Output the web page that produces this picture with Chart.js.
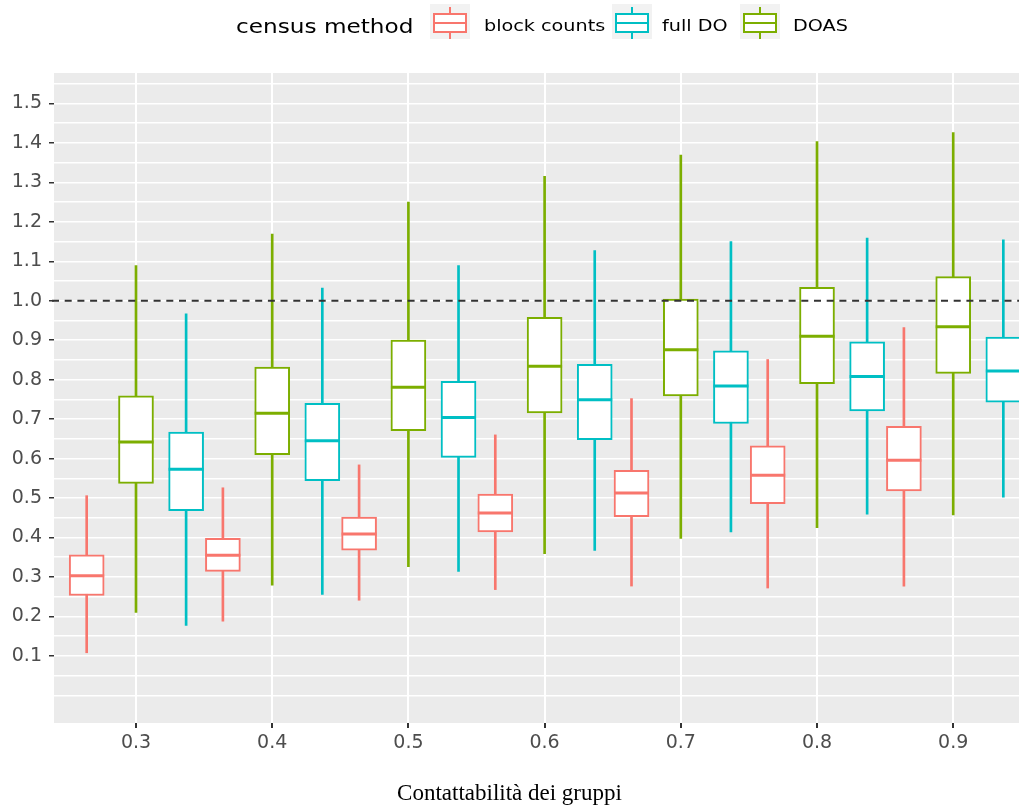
<!DOCTYPE html>
<html>
<head>
<meta charset="utf-8">
<script src="https://cdn.jsdelivr.net/npm/chart.js@4/dist/chart.umd.min.js"></script>
<style>
  body { margin: 0; background: #ffffff; }
  #wrap { position: relative; width: 1019px; height: 807px; overflow: hidden; font-family: "DejaVu Sans", sans-serif; }
  #chart { position: absolute; left: 0; top: 0; }
  .legend-title { position: absolute; top: 17px; left: 236px; font-size: 19px; line-height: 1; color: #000; transform: scaleX(1.22); transform-origin: left; white-space: nowrap; }
  .key { position: absolute; top: 4px; width: 40px; height: 35px; background: #F2F2F2; }
  .key .whisk { position: absolute; left: 19px; top: 3px; width: 2px; height: 32px; }
  .key .box { position: absolute; left: 3px; top: 9px; width: 30px; height: 16px; border: 2px solid; background: #ffffff; }
  .key .med { position: absolute; left: 3px; top: 18px; width: 34px; height: 2px; }
  .legend-label { position: absolute; top: 18px; font-size: 16px; line-height: 1; color: #000; transform: scaleX(1.2); transform-origin: left; white-space: nowrap; }
  #xtitle { position: absolute; top: 781px; left: 0; width: 1019px; text-align: center; font-family: "Liberation Serif", serif; font-size: 23px; line-height: 1; color: #000; }
</style>
</head>
<body>
<div id="wrap">
  <canvas id="chart" width="1019" height="807"></canvas>
  <div class="legend-title">census method</div>
  <div id="legend"></div>
  <div id="xtitle">Contattabilità dei gruppi</div>
</div>
<script>
// group contactability (x ticks)
const CONTACT = [0.3, 0.4, 0.5, 0.6, 0.7, 0.8, 0.9];

const SERIES_NAMES = ['block counts', 'full DO', 'DOAS'];
const SERIES_COLORS = ['#F8766D', '#00BFC4', '#7CAE00'];
// each method sits a bit left / right of the tick
const SERIES_SHIFT = [-0.0362, 0.0368, 0];

// [lower whisker, Q1, median, Q3, upper whisker] per contactability
const BLOCK_COUNTS = [
    [0.108, 0.253, 0.303, 0.356, 0.506],
    [0.188, 0.314, 0.355, 0.398, 0.526],
    [0.241, 0.368, 0.409, 0.452, 0.584],
    [0.268, 0.414, 0.462, 0.510, 0.660],
    [0.277, 0.453, 0.513, 0.570, 0.752],
    [0.272, 0.486, 0.558, 0.632, 0.851],
    [0.277, 0.518, 0.596, 0.682, 0.932]
];
const FULL_DO = [
    [0.177, 0.468, 0.573, 0.667, 0.967],
    [0.256, 0.544, 0.645, 0.740, 1.032],
    [0.314, 0.603, 0.704, 0.796, 1.089],
    [0.367, 0.648, 0.749, 0.839, 1.127],
    [0.414, 0.689, 0.784, 0.873, 1.150],
    [0.459, 0.721, 0.808, 0.896, 1.159],
    [0.502, 0.743, 0.822, 0.908, 1.154]
];
const DOAS = [
    [0.210, 0.537, 0.642, 0.759, 1.089],
    [0.279, 0.610, 0.715, 0.832, 1.169],
    [0.326, 0.671, 0.781, 0.900, 1.250],
    [0.359, 0.716, 0.834, 0.958, 1.315],
    [0.398, 0.759, 0.876, 1.004, 1.369],
    [0.425, 0.790, 0.910, 1.034, 1.403],
    [0.457, 0.816, 0.934, 1.061, 1.426]
];
const SERIES_STATS = [BLOCK_COUNTS, FULL_DO, DOAS];

const REF_LINE = 1.0;
const X_MIN = 0.2398, X_MAX = 0.9483;
const Y_MIN = -0.07, Y_MAX = 1.577;

// horizontal grid every 0.05, labels only on the tenths
const Y_GRID = [];
for (let i = 0; i <= 31; i++) Y_GRID.push(Math.round(i * 5) / 100);
function isLabelled(v) {
    const r = Math.round(v * 100);
    return r % 10 === 0 && r >= 10 && r <= 150;
}

Chart.defaults.font.family = '"DejaVu Sans", sans-serif';

// one whisker bar, one box bar and one median mark per method
function seriesDatasets(name, color, shift, stats) {
    const xs = CONTACT.map(c => +(c + shift).toFixed(4));
    return [
        {
            type: 'bar', label: name + ' whiskers',
            data: stats.map((s, i) => ({ x: xs[i], y: [s[0], s[4]] })),
            backgroundColor: color, borderWidth: 0,
            grouped: false, barPercentage: 1, categoryPercentage: 1, maxBarThickness: 2,
            order: 3
        },
        {
            type: 'bar', label: name,
            data: stats.map((s, i) => ({ x: xs[i], y: [s[1], s[3]] })),
            backgroundColor: '#FFFFFF', borderColor: color, borderWidth: 2, borderSkipped: false,
            grouped: false, barPercentage: 1, categoryPercentage: 1, maxBarThickness: 35,
            order: 2
        },
        {
            type: 'scatter', label: name + ' median',
            data: stats.map((s, i) => ({ x: xs[i], y: s[2] })),
            pointStyle: 'line', pointRadius: 17.5, pointHoverRadius: 17.5,
            borderColor: color, borderWidth: 3,
            order: 1
        }
    ];
}

const datasets = [];
SERIES_NAMES.forEach((name, k) => {
    datasets.push(...seriesDatasets(name, SERIES_COLORS[k], SERIES_SHIFT[k], SERIES_STATS[k]));
});

// grey panel behind, dashed reference line on top
const panelPlugin = {
    id: 'panel',
    beforeDraw(chart) {
        const { ctx, chartArea: a } = chart;
        ctx.save();
        ctx.fillStyle = '#EBEBEB';
        ctx.fillRect(a.left, a.top, a.width, a.height);
        ctx.restore();
    },
    afterDatasetsDraw(chart) {
        const { ctx, chartArea: a } = chart;
        const y = chart.scales.y.getPixelForValue(REF_LINE);
        ctx.save();
        ctx.strokeStyle = '#333333';
        ctx.lineWidth = 2;
        ctx.setLineDash([7, 5.7]);
        ctx.beginPath();
        ctx.moveTo(a.left - 2, y);
        ctx.lineTo(a.right, y);
        ctx.stroke();
        ctx.restore();
    }
};

const tickFont = { family: '"DejaVu Sans", sans-serif', size: 19 };

new Chart(document.getElementById('chart'), {
    type: 'bar',
    data: { datasets: datasets },
    options: {
        responsive: false,
        animation: false,
        events: [],
        layout: { autoPadding: false, padding: { top: 73, left: 0, right: 0, bottom: 0 } },
        plugins: {
            legend: { display: false },
            tooltip: { enabled: false }
        },
        scales: {
            x: {
                type: 'linear',
                min: X_MIN,
                max: X_MAX,
                offset: false,
                afterBuildTicks: s => { s.ticks = CONTACT.map(v => ({ value: v })); },
                afterFit: s => { s.height = 84; },
                grid: { color: '#FFFFFF', lineWidth: 2, offset: false, tickColor: '#333333', tickLength: 5 },
                border: { display: false },
                ticks: {
                    color: '#4D4D4D', font: tickFont, padding: 4,
                    autoSkip: false, maxRotation: 0,
                    callback: v => v.toFixed(1)
                }
            },
            y: {
                type: 'linear',
                min: Y_MIN,
                max: Y_MAX,
                afterBuildTicks: s => { s.ticks = Y_GRID.map(v => ({ value: v })); },
                afterFit: s => { s.width = 54; },
                grid: {
                    color: '#FFFFFF', lineWidth: 1.5, tickLength: 5,
                    tickColor: ctx => (ctx.tick && isLabelled(ctx.tick.value)) ? '#333333' : 'rgba(0,0,0,0)'
                },
                border: { display: false },
                ticks: {
                    color: '#4D4D4D', font: tickFont, padding: 7, autoSkip: false,
                    callback: v => isLabelled(v) ? v.toFixed(1) : ''
                }
            }
        }
    },
    plugins: [panelPlugin]
});

// legend: boxplot keys built from the series lists
const KEY_LEFT = [430, 612, 740];
const LABEL_LEFT = [484, 662, 793];
const legend = document.getElementById('legend');
SERIES_NAMES.forEach((name, k) => {
    const c = SERIES_COLORS[k];
    const key = document.createElement('div');
    key.className = 'key';
    key.style.left = KEY_LEFT[k] + 'px';
    key.innerHTML = '<div class="whisk" style="background:' + c + '"></div>' +
        '<div class="box" style="border-color:' + c + '"></div>' +
        '<div class="med" style="background:' + c + '"></div>';
    legend.appendChild(key);
    const lab = document.createElement('div');
    lab.className = 'legend-label';
    lab.style.left = LABEL_LEFT[k] + 'px';
    lab.textContent = name;
    legend.appendChild(lab);
});
</script>
</body>
</html>
